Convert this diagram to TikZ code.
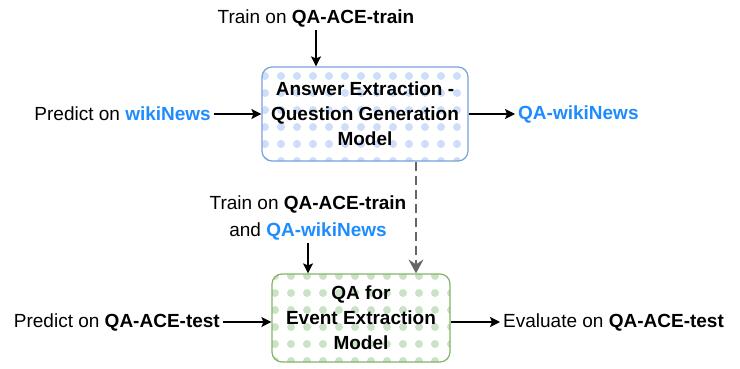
\documentclass[tikz,border=0pt]{standalone}
\usepackage{fontspec}
\setmainfont{Liberation Sans}
\usetikzlibrary{arrows.meta}

\definecolor{dsblue}{RGB}{30,140,255}
\definecolor{boxblue}{RGB}{120,160,220}
\definecolor{dotblue}{RGB}{205,222,250}
\definecolor{boxgreen}{RGB}{130,179,102}
\definecolor{dotgreen}{RGB}{202,227,199}
\definecolor{dashgray}{RGB}{102,102,102}

\tikzset{
  dots/.style n args={2}{path picture={
    \foreach \i in {0,...,14}
      \foreach \j in {0,...,6}
        \fill[#1] ([shift={(\i*16pt+3pt,-\j*17pt-#2)}]path picture bounding box.north west) circle[radius=4pt];
  }},
  model/.style={draw=#1, rounded corners=10pt, line width=1.2pt, align=center,
    font=\fontsize{19}{25}\selectfont\bfseries},
  lbl/.style={inner sep=3pt, align=center},
  flow/.style={-{Stealth[length=10pt,width=10pt,inset=2pt]}, line width=1.3pt},
}

\begin{document}
\begin{tikzpicture}[x=1pt,y=-1pt,font=\fontsize{19}{27}\selectfont]
\useasboundingbox (0,0) rectangle (740,369);

% models
\node[model=boxblue, dots={dotblue}{9pt}, minimum width=206pt, minimum height=94pt] (aeqg) at (365,114)
{Answer Extraction -\\Question Generation\\Model};
\node[model=boxgreen, dots={dotgreen}{2pt}, minimum width=178pt, minimum height=88pt] (qaee) at (361,318)
{QA for\\Event Extraction\\Model};

% labels
\node[lbl] (train1) at (316,18) {Train on \textbf{QA-ACE-train}};
\node[lbl, anchor=east] (pred1) at (214,114) {Predict on \textbf{\color{dsblue}wikiNews}};
\node[lbl, anchor=west] (qawiki) at (515,114) {\textbf{\color{dsblue}QA-wikiNews}};
\node[lbl] (train2) at (308,218) {Train on \textbf{QA-ACE-train}\\and \textbf{\color{dsblue}QA-wikiNews}};
\node[lbl, anchor=east] (pred2) at (223,322) {Predict on \textbf{QA-ACE-test}};
\node[lbl, anchor=west] (eval) at (500,322) {Evaluate on \textbf{QA-ACE-test}};
\coordinate (gen) at (416,0);

% connectors
\draw[flow] (train1.south) -- (train1.south |- aeqg.north);
\draw[flow] (pred1.east) -- (aeqg.west);
\draw[flow] (aeqg.east) -- (qawiki.west);
\draw[dashgray, line width=2pt, dash pattern=on 9pt off 5pt,
  -{Stealth[length=14pt,width=15pt,inset=5pt]}]
  (aeqg.south -| gen) -- (qaee.north -| gen);
\draw[flow] (train2.south) -- (train2.south |- qaee.north);
\draw[flow] (pred2.east) -- (pred2.east -| qaee.west);
\draw[flow] (qaee.east |- eval.west) -- (eval.west);
\end{tikzpicture}
\end{document}
